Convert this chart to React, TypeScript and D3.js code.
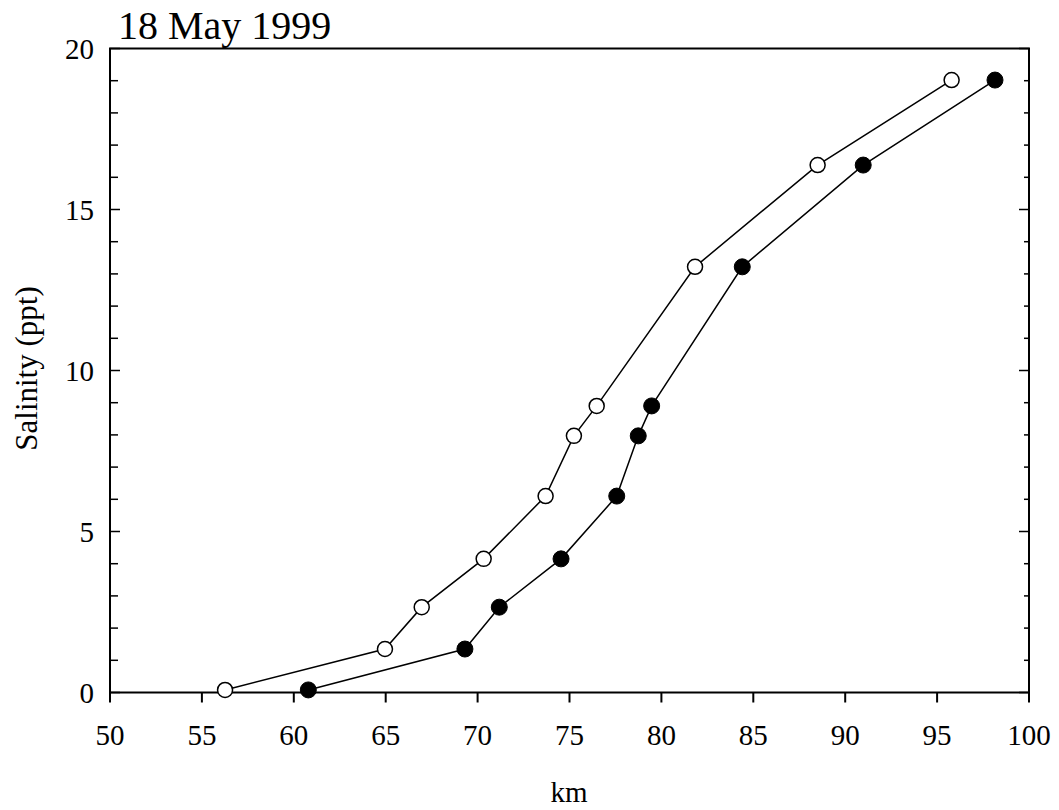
import React from "react";
import * as d3 from "d3";

const salinity = [0.08, 1.35, 2.65, 4.15, 6.1, 7.97, 8.9, 13.22, 16.38, 19.02];
const kmOpen = [56.26, 64.96, 66.96, 70.33, 73.7, 75.24, 76.48, 81.83, 88.5, 95.79];
const kmFilled = [60.79, 69.31, 71.18, 74.54, 77.57, 78.74, 79.47, 84.4, 90.98, 98.15];
const xTicks = [50, 55, 60, 65, 70, 75, 80, 85, 90, 95, 100];
const yTicks = [0, 5, 10, 15, 20];
const yMinor = d3.range(0, 21, 1);
const title = "18 May 1999";
const xLabel = "km";
const yLabel = "Salinity (ppt)";

const W = 1059;
const H = 810;
const left = 110;
const right = 1029;
const top = 48.5;
const bottom = 692.5;

export default function App() {
  const x = d3.scaleLinear().domain([50, 100]).range([left, right]);
  const y = d3.scaleLinear().domain([0, 20]).range([bottom, top]);
  const line = d3
    .line<[number, number]>()
    .x((d) => x(d[0]))
    .y((d) => y(d[1]));
  const openPts: [number, number][] = kmOpen.map((k, i) => [k, salinity[i]]);
  const filledPts: [number, number][] = kmFilled.map((k, i) => [k, salinity[i]]);
  const font = "'Liberation Serif', 'Times New Roman', serif";

  return (
    <svg
      width={W}
      height={H}
      style={{ position: "absolute", left: 0, top: 0, background: "#fff" }}
      fontFamily={font}
    >
      <rect x={0} y={0} width={W} height={H} fill="#fff" />
      <rect
        x={left}
        y={top}
        width={right - left}
        height={bottom - top}
        fill="none"
        stroke="#000"
        strokeWidth={2}
      />
      {xTicks.map((t) => (
        <g key={"x" + t}>
          <line x1={x(t)} x2={x(t)} y1={bottom} y2={bottom + 10} stroke="#000" strokeWidth={2} />
          <text x={x(t)} y={745} fontSize={29} textAnchor="middle" fill="#000">
            {t}
          </text>
        </g>
      ))}
      {yMinor.map((t) => {
        const major = t % 5 === 0;
        return (
          <g key={"y" + t}>
            <line x1={left} x2={left + (major ? 10 : 8)} y1={y(t)} y2={y(t)} stroke="#000" strokeWidth={1.5} />
            <line x1={right} x2={right - (major ? 10 : 5)} y1={y(t)} y2={y(t)} stroke="#000" strokeWidth={1.5} />
          </g>
        );
      })}
      {yTicks.map((t) => (
        <text key={"yl" + t} x={94} y={y(t) + 10} fontSize={29} textAnchor="end" fill="#000">
          {t}
        </text>
      ))}
      <path d={line(openPts) || ""} fill="none" stroke="#000" strokeWidth={1.5} />
      <path d={line(filledPts) || ""} fill="none" stroke="#000" strokeWidth={1.5} />
      {openPts.map((d, i) => (
        <circle key={"o" + i} cx={x(d[0])} cy={y(d[1])} r={7.5} fill="#fff" stroke="#000" strokeWidth={1.5} />
      ))}
      {filledPts.map((d, i) => (
        <circle key={"f" + i} cx={x(d[0])} cy={y(d[1])} r={8} fill="#000" stroke="#000" strokeWidth={1} />
      ))}
      <text x={118} y={39} fontSize={40} fill="#000">
        {title}
      </text>
      <text x={569} y={802} fontSize={29} textAnchor="middle" fill="#000">
        {xLabel}
      </text>
      <text
        transform={`translate(37, 368.5) rotate(-90)`}
        fontSize={31}
        textAnchor="middle"
        fill="#000"
      >
        {yLabel}
      </text>
    </svg>
  );
}
